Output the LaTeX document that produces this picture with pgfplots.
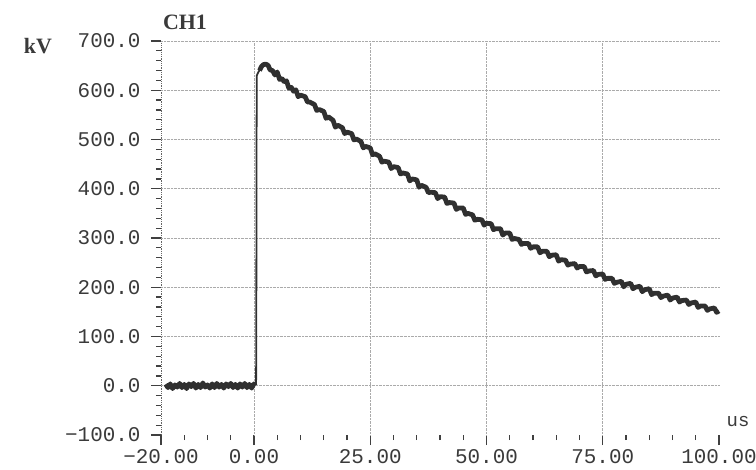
\documentclass[border=0pt]{standalone}
\usepackage{fontspec}
\setmainfont{Liberation Sans}
\newfontfamily\monof{Liberation Mono}
\newfontfamily\boldf{Liberation Serif}
\usepackage{pgfplots}
\pgfplotsset{compat=1.18}
\definecolor{trace}{HTML}{303030}
\definecolor{gridc}{HTML}{AAAAAA}
\definecolor{txt}{HTML}{3A3A3A}
\begin{document}
\begin{tikzpicture}
\begin{axis}[
  at={(0,0)}, anchor=south west,
  scale only axis, width=558bp, height=394bp,
  xmin=-20, xmax=100, ymin=-100, ymax=700,
  axis lines=left, axis line style={-},
  x axis line style={draw=none},
  y axis line style={gray!80!black, densely dotted, line width=0.8pt},
  xtick={-20,0,25,50,75,100},
  xticklabels={−20.00,0.00,25.00,50.00,75.00,100.00},
  minor xtick={-15,-10,-5,5,10,15,20,30,35,40,45,55,60,65,70,80,85,90,95},
  ytick={-100,0,100,200,300,400,500,600,700},
  yticklabels={−100.0,0.0,100.0,200.0,300.0,400.0,500.0,600.0,700.0},
  minor y tick num=4,
  tick align=outside,
  major tick length=10bp, minor tick length=5bp,
  every tick/.style={black!75, line width=1.3pt},
  grid=none,
  extra x ticks={0,25,50,75}, extra x tick labels={},
  extra x tick style={grid=major, major tick length=0pt, major grid style={gridc, densely dotted, line width=0.8pt}},
  extra y ticks={0,100,200,300,400,500,600,700}, extra y tick labels={},
  extra y tick style={grid=major, major tick length=0pt, major grid style={gridc, densely dotted, line width=0.8pt}},
  ticklabel style={font=\monof\fontsize{21}{22}\selectfont, text=txt},
  xticklabel style={yshift=-1bp},
  yticklabel style={xshift=-7bp},
  clip=false,
]
% baseline (noisy)
\addplot[trace, line width=4.6pt, line join=round] coordinates {
(-19,3) (-18.5,-4) (-18,4) (-17.5,-6) (-17,2) (-16.5,-3) (-16,5) (-15.5,-4) (-15,3) (-14.5,-6)
(-14,4) (-13.5,-2) (-13,5) (-12.5,-5) (-12,3) (-11.5,-4) (-11,6) (-10.5,-3) (-10,2) (-9.5,-5)
(-9,4) (-8.5,-4) (-8,5) (-7.5,-3) (-7,3) (-6.5,-5) (-6,4) (-5.5,-2) (-5,5) (-4.5,-4)
(-4,3) (-3.5,-5) (-3,4) (-2.5,-3) (-2,5) (-1.5,-4) (-1,3) (-0.5,-5) (0,4) (0.3,0)
};
% rise (thin)
\addplot[trace, line width=1.8pt] coordinates {
(0.2,2) (0.45,5) (0.5,150) (0.55,500) (0.6,630) (1.0,638) (1.5,645)
};
% decay (noisy)
\addplot[trace, line width=4.8pt, line join=round] coordinates {
(1.2,640) (1.6,648) (2.0,652) (2.5,653)
(3,651) (3.5,641) (4,640) (4.5,631) (5,637) (5.5,622) (6,624) (6.5,617) (7,619) (7.5,604) (8,606) (8.5,598) (9,601) (9.5,587) (10,590)
(11,587) (11.5,576) (12,576) (13,571) (13.5,559) (14,561) (15,557) (15.5,543) (16,546) (17,539) (17.5,525) (18,529) (19,524) (19.5,512) (20,515)
(21,512) (21.5,499) (22,501) (23,496) (23.5,483) (24,486) (25,483) (25.5,469) (26,471) (27,466) (27.5,454) (28,456) (29,454) (29.5,441) (30,445)
(31,443) (31.5,430) (32,432) (33,430) (33.5,416) (34,420) (35,418) (35.5,403) (36,407) (37,403) (37.5,392) (38,393) (39,392) (39.5,380) (40,384)
(41,383) (41.5,370) (42,372) (43,371) (43.5,358) (44,361) (45,361) (45.5,348) (46,350) (47,347) (47.5,336) (48,338) (49,337) (49.5,326) (50,330)
(51,329) (51.5,317) (52,319) (53,319) (53.5,306) (54,310) (55,310) (55.5,297) (56,299) (57,297) (57.5,287) (58,289) (59,289) (59.5,279) (60,282)
(61,282) (61.5,270) (62,273) (63,273) (63.5,262) (64,265) (65,266) (65.5,253) (66,256) (67,255) (67.5,245) (68,247) (69,248) (69.5,239) (70,242)
(71,242) (71.5,231) (72,233) (73,234) (73.5,223) (74,226) (75,227) (75.5,216) (76,218) (77,218) (77.5,208) (78,210) (79,212) (79.5,201) (80,206)
(81,208) (81.5,197) (82,200) (83,202) (83.5,191) (84,195) (85,197) (85.5,185) (86,188) (87,188) (87.5,179) (88,182) (89,184) (89.5,174) (90,178)
(91,180) (91.5,170) (92,173) (93,174) (93.5,165) (94,168) (95,170) (95.5,159) (96,162) (97,162) (97.5,153) (98,156) (99,158) (99.5,149) (100,152)
};
\end{axis}
\node[font=\boldf\bfseries\fontsize{22}{22}\selectfont, text=txt] at (-123bp,389bp) {kV};
\node[font=\boldf\bfseries\fontsize{22}{22}\selectfont, text=txt] at (24bp,413bp) {CH1};
\node[font=\monof\fontsize{19}{19}\selectfont, text=txt] at (577bp,13bp) {us};
\pgfresetboundingbox
\path (-161bp,-35bp) rectangle (595bp,435bp);
\end{tikzpicture}
\end{document}
